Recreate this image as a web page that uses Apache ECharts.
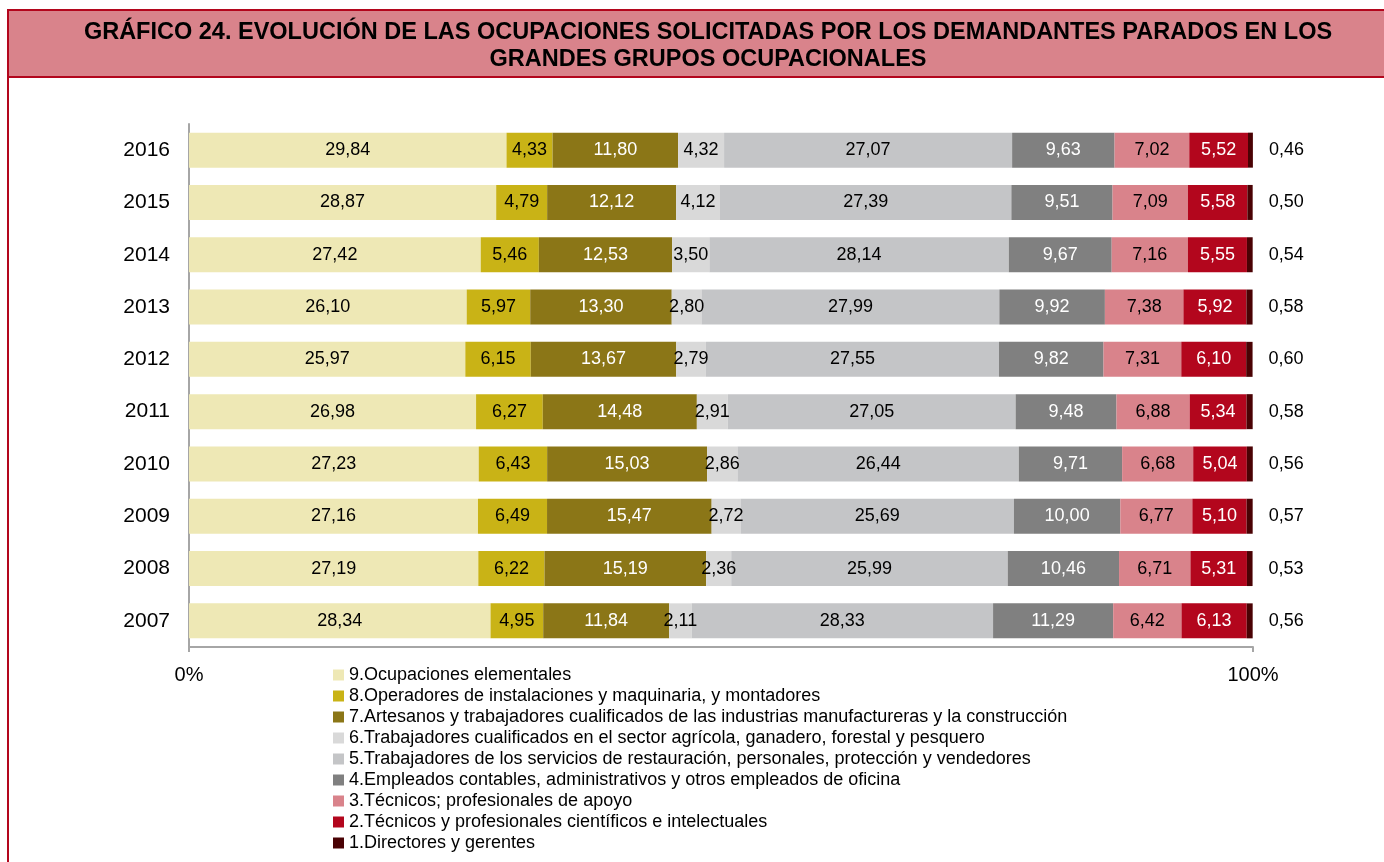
<!DOCTYPE html>
<html>
<head>
<meta charset="utf-8">
<script src="https://cdn.jsdelivr.net/npm/echarts@6/dist/echarts.min.js"></script>
<style>
  html, body { margin: 0; padding: 0; background: #fff; }
  #chart { width: 1384px; height: 862px; }
</style>
</head>
<body>
<div id="chart"></div>
<script>
// años, de arriba abajo
var years = ['2016', '2015', '2014', '2013', '2012', '2011', '2010', '2009', '2008', '2007'];

var groupNames = [
  '9.Ocupaciones elementales',
  '8.Operadores de instalaciones y maquinaria, y montadores',
  '7.Artesanos y trabajadores cualificados de las industrias manufactureras y la construcción',
  '6.Trabajadores cualificados en el sector agrícola, ganadero, forestal y pesquero',
  '5.Trabajadores de los servicios de restauración, personales, protección y vendedores',
  '4.Empleados contables, administrativos y otros empleados de oficina',
  '3.Técnicos; profesionales de apoyo',
  '2.Técnicos y profesionales científicos e intelectuales',
  '1.Directores y gerentes'
];

// porcentajes por grupo (mismo orden que years)
var g9 = [29.84, 28.87, 27.42, 26.10, 25.97, 26.98, 27.23, 27.16, 27.19, 28.34];
var g8 = [4.33, 4.79, 5.46, 5.97, 6.15, 6.27, 6.43, 6.49, 6.22, 4.95];
var g7 = [11.80, 12.12, 12.53, 13.30, 13.67, 14.48, 15.03, 15.47, 15.19, 11.84];
var g6 = [4.32, 4.12, 3.50, 2.80, 2.79, 2.91, 2.86, 2.72, 2.36, 2.11];
var g5 = [27.07, 27.39, 28.14, 27.99, 27.55, 27.05, 26.44, 25.69, 25.99, 28.33];
var g4 = [9.63, 9.51, 9.67, 9.92, 9.82, 9.48, 9.71, 10.00, 10.46, 11.29];
var g3 = [7.02, 7.09, 7.16, 7.38, 7.31, 6.88, 6.68, 6.77, 6.71, 6.42];
var g2 = [5.52, 5.58, 5.55, 5.92, 6.10, 5.34, 5.04, 5.10, 5.31, 6.13];
var g1 = [0.46, 0.50, 0.54, 0.58, 0.60, 0.58, 0.56, 0.57, 0.53, 0.56];

var xTicks = [0, 100];

var groupData = [g9, g8, g7, g6, g5, g4, g3, g2, g1];
var colors = ['#EEE8B5', '#C9B316', '#8B7617', '#D9D9D9', '#C4C5C7', '#808080', '#D9838B', '#B3061D', '#4A0204'];
var labelColors = ['#000', '#000', '#fff', '#000', '#000', '#fff', '#000', '#fff', '#000'];

var FONT = '"Liberation Sans", Arial, sans-serif';

function fmt(v) {
  return v.toFixed(2).replace('.', ',');
}

var series = [];
for (var i = 0; i < groupData.length; i++) {
  var last = i === groupData.length - 1;
  series.push({
    name: groupNames[i],
    type: 'bar',
    stack: 'total',
    barWidth: 35,
    data: groupData[i],
    itemStyle: { color: colors[i] },
    label: {
      show: true,
      position: last ? 'right' : 'inside',
      distance: last ? 16 : 5,
      color: labelColors[i],
      fontSize: 18,
      fontFamily: FONT,
      formatter: function (p) { return fmt(p.value); }
    }
  });
}

var chart = echarts.init(document.getElementById('chart'));
chart.setOption({
  animation: false,
  backgroundColor: '#fff',
  color: colors,
  graphic: [
    {
      type: 'rect',
      shape: { x: 8, y: 10, width: 1390, height: 67 },
      style: { fill: '#D9838B', stroke: '#B3061D', lineWidth: 2 },
      z: -1
    },
    {
      type: 'line',
      shape: { x1: 8, y1: 77, x2: 8, y2: 862 },
      style: { stroke: '#B3061D', lineWidth: 2 }
    }
  ],
  title: {
    text: 'GRÁFICO 24. EVOLUCIÓN DE LAS OCUPACIONES SOLICITADAS POR LOS DEMANDANTES PARADOS EN LOS\nGRANDES GRUPOS OCUPACIONALES',
    left: 703,
    top: 14,
    textAlign: 'center',
    textStyle: {
      fontFamily: FONT,
      fontSize: 23.5,
      fontWeight: 'bold',
      color: '#000',
      lineHeight: 27
    }
  },
  legend: {
    orient: 'vertical',
    left: 333,
    top: 666,
    padding: 0,
    itemWidth: 11,
    itemHeight: 11,
    itemGap: 3,
    icon: 'rect',
    data: groupNames,
    textStyle: { fontFamily: FONT, fontSize: 18, lineHeight: 18, color: '#000' }
  },
  grid: { left: 189, right: 131, top: 124, bottom: 215 },
  xAxis: {
    type: 'value',
    min: xTicks[0],
    max: xTicks[1],
    interval: 100,
    splitLine: { show: false },
    axisLine: { show: true, lineStyle: { color: '#A6A6A6', width: 2 } },
    axisTick: { show: true, length: 5, lineStyle: { color: '#A6A6A6', width: 2 } },
    axisLabel: {
      margin: 18,
      fontSize: 20,
      fontFamily: FONT,
      color: '#000',
      formatter: function (v) { return v + '%'; }
    }
  },
  yAxis: {
    type: 'category',
    inverse: true,
    data: years,
    axisLine: { show: true, lineStyle: { color: '#A6A6A6', width: 2 } },
    axisTick: { show: false },
    axisLabel: { margin: 19, fontSize: 21, fontFamily: FONT, color: '#000' }
  },
  series: series
});
</script>
</body>
</html>
